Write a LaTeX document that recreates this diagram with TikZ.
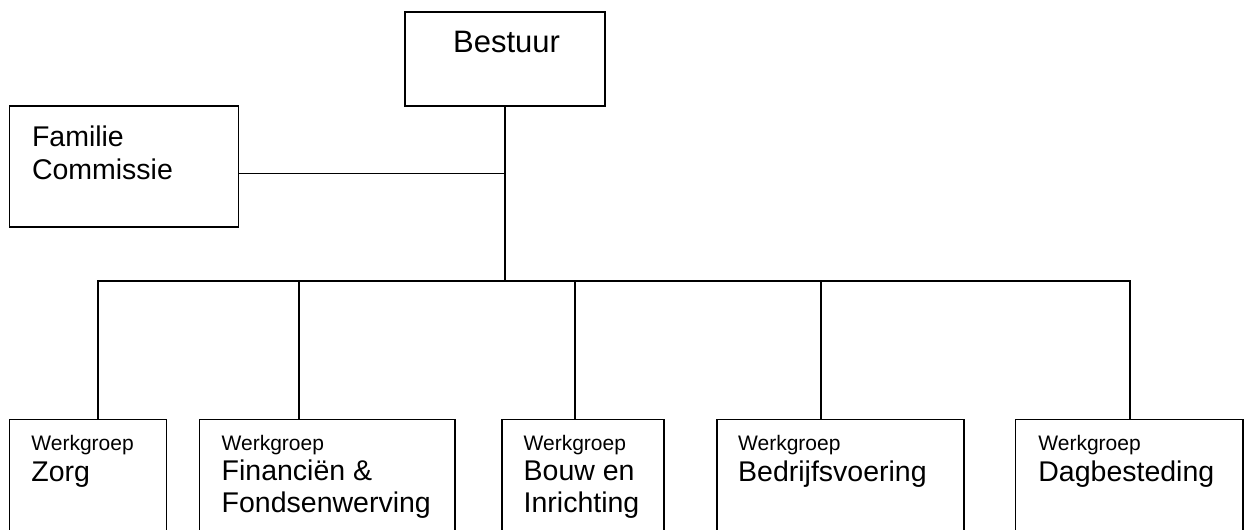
\documentclass[tikz,border=0pt]{standalone}
\usepackage{fontspec}
\setmainfont{Liberation Sans}
\usetikzlibrary{calc}
\begin{document}
\begin{tikzpicture}[x=1pt,y=-1pt,line width=1.4pt,
	box/.style={draw,rectangle,inner sep=0pt,outer sep=0pt,anchor=north west},
	big/.style={anchor=base west,inner sep=0pt,align=left,font=\fontsize{28.5}{31.5}\selectfont},
	small/.style={anchor=base west,inner sep=0pt,font=\fontsize{21}{24}\selectfont}]
	\useasboundingbox (0,0) rectangle (1245,530);
	\clip (0,0) rectangle (1245,530);
	\def\top{419.3};
	\def\h{141};

	% BESTUUR
	\node[box,minimum width=200pt,minimum height=94pt] (bestuur) at (405,12) {};
	\node[anchor=base,inner sep=0pt,font=\fontsize{31}{36}\selectfont] (bestuurtxt) at ($(bestuur.north)+(1.5,40.5)$) {Bestuur};

	% FAMILIE COMMISSIE (base = last line)
	\node[box,minimum width=229pt,minimum height=121pt] (familie) at (9.3,106) {};
	\node[big,font=\fontsize{28.5}{33}\selectfont] (familietxt) at ($(familie.north west)+(22,73)$) {Familie\\Commissie};

	% WERKGROEPEN
	\node[box,minimum width=157pt,minimum height=\h pt] (zorg) at (9.3,\top) {};
	\node[box,minimum width=255.5pt,minimum height=\h pt] (fin) at (199.5,\top) {};
	\node[box,minimum width=162pt,minimum height=\h pt] (bouw) at (502,\top) {};
	\node[box,minimum width=247pt,minimum height=\h pt] (bedrijf) at (717,\top) {};
	\node[box,minimum width=227.3pt,minimum height=\h pt] (dag) at (1015.7,\top) {};

	\node[small] (zorgw) at ($(zorg.north west)+(21.4,31)$) {Werkgroep};
	\node[big] (zorgtxt) at ($(zorg.north west)+(21.4,62.5)$) {Zorg};
	\node[small] (finw) at ($(fin.north west)+(21.5,31)$) {Werkgroep};
	\node[big] (fintxt) at ($(fin.north west)+(21.5,93)$) {Financiën \&\\Fondsenwerving};
	\node[small] (bouww) at ($(bouw.north west)+(21,31)$) {Werkgroep};
	\node[big] (bouwtxt) at ($(bouw.north west)+(21,93)$) {Bouw en\\Inrichting};
	\node[small] (bedrijfw) at ($(bedrijf.north west)+(20.5,31)$) {Werkgroep};
	\node[big] (bedrijftxt) at ($(bedrijf.north west)+(20.5,62.5)$) {Bedrijfsvoering};
	\node[small] (dagw) at ($(dag.north west)+(22,31)$) {Werkgroep};
	\node[big] (dagtxt) at ($(dag.north west)+(22,62.5)$) {Dagbesteding};

	% LIJNEN
	\coordinate (busl) at (98,281);
	\coordinate (busr) at (1130,281);
	\coordinate (b2) at (299,281);
	\coordinate (b3) at (575,281);
	\coordinate (b4) at (821,281);
	\draw (bestuur.south) -- (bestuur.south |- busl);
	\draw ([yshift=-7pt]familie.east) -- ([yshift=-7pt]familie.east -| bestuur.south);
	\draw (busl |- zorg.north) -- (busl) -- (busr) -- (busr |- dag.north);
	\draw (b2) -- (b2 |- fin.north);
	\draw (b3) -- (b3 |- bouw.north);
	\draw (b4) -- (b4 |- bedrijf.north);
\end{tikzpicture}
\end{document}
